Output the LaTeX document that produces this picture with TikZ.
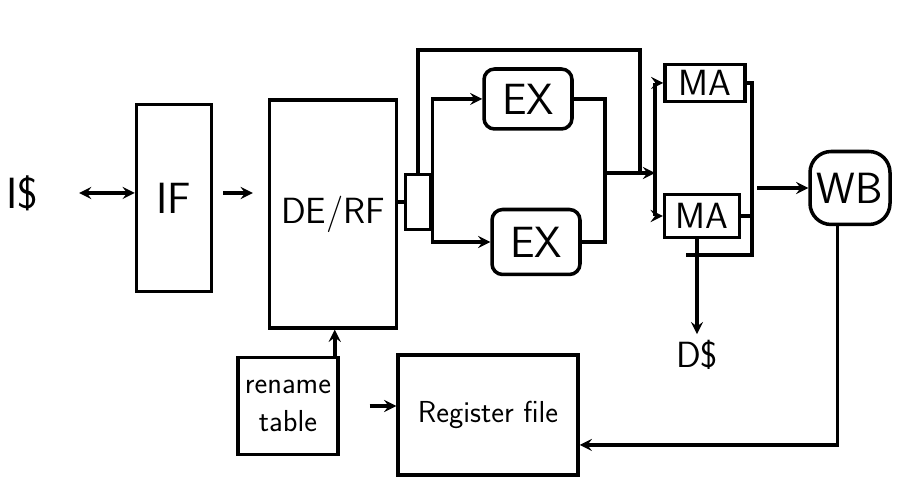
\documentclass[tikz,border=0pt]{standalone}
\usetikzlibrary{positioning,arrows,shapes}

\begin{document}
\begin{tikzpicture}[x=0.02cm,y=-0.02cm]
    % Define styles
    \tikzstyle{stage} = [rectangle, draw, line width=2pt, font=\sffamily\huge, inner sep=2pt]
    \tikzstyle{mux} = [rectangle, draw, line width=2pt, minimum width=0.5cm, minimum height=1.1cm, inner sep=0pt]
    \tikzstyle{wire} = [line width=2pt]
    \tikzstyle{arrow} = [line width=2pt,->,>=stealth]

    \useasboundingbox (0,0) rectangle (898,492);

    % Pipeline stages
    \node[font=\sffamily\Huge] (icache) at (22,193) {I\$};
    \node[stage, font=\sffamily\Huge, minimum width=1.5cm, minimum height=3.74cm] (IF) at (174,198) {IF};
    \node[stage, minimum width=2.54cm, minimum height=4.56cm] (DE) at (333,214) {DE/RF};
    \node[mux] (mux) at (418,202) {};
    \node[stage, font=\sffamily\Huge, minimum width=1.76cm, minimum height=1.2cm, rounded corners=6pt] (EX1) at (528,99) {EX};
    \node[stage, font=\sffamily\Huge, minimum width=1.76cm, minimum height=1.3cm, rounded corners=6pt] (EX2) at (536,242) {EX};
    \node[stage, minimum width=1.6cm, minimum height=0.74cm] (MA1) at (705,83) {MA};
    \node[stage, minimum width=1.5cm, minimum height=0.86cm] (MA2) at (702,216) {MA};
    \node[stage, font=\sffamily\Huge, minimum width=1.6cm, minimum height=1.46cm, rounded corners=12pt] (WB) at (850,188) {WB};
    \node[font=\sffamily\huge] (dcache) at (697,355) {D\$};
    \node[stage, minimum width=2cm, minimum height=1.94cm, align=center, font=\sffamily\LARGE] (rename) at (288,406) {rename\\table};
    \node[stage, minimum width=3.6cm, minimum height=2.4cm, font=\sffamily\LARGE] (regfile) at (488,415) {Register file};

    % Junctions
    \coordinate (merge) at (605,173);
    \coordinate (bypass) at (640,50);
    \coordinate (barTop) at (655,83);
    \coordinate (barBot) at (655,216);
    \coordinate (rbar) at (752,255);
    \coordinate (rbarEnd) at (686,255);

    % Arrows
    \draw[arrow, <->, shorten <=0.7cm] (icache) -- (icache -| IF.west);
    \draw[arrow, shorten <=0.2cm, shorten >=0.3cm] (IF.east |- icache) -- (DE.west |- icache);
    \draw[wire] (DE.east |- mux) -- (mux.west);
    \draw[wire] (mux.north) |- (bypass) -- (bypass |- merge);
    \draw[arrow] (mux.east) |- (EX1.west);
    \draw[arrow] (mux.east) |- (EX2.west);
    \draw[wire] (EX1.east) -| (merge);
    \draw[wire] (EX2.east) -| (merge);
    \draw[arrow] (merge) -- (merge -| barTop);
    \draw[wire] (barTop) -- (barBot);
    \draw[arrow] (barTop) -- (MA1.west);
    \draw[arrow] (barBot) -- (MA2.west);
    \draw[wire] (MA1.east) -| (rbar) -- (rbarEnd);
    \draw[wire] (MA2.east) -- (MA2.east -| rbar);
    \draw[arrow, shorten <=0.1cm] (rbar |- WB) -- (WB.west);
    \draw[arrow] (MA2.south -| dcache) -- (dcache.north);
    \draw[arrow] ([xshift=-0.25cm]WB.south) |- ([yshift=-0.6cm]regfile.east);
    \draw[arrow, shorten <=0.6cm] (rename.east) -- (rename.east -| regfile.west);
    \draw[arrow] ([xshift=-0.1cm]rename.north east) -- ([xshift=-0.1cm]rename.north east |- DE.south);

\end{tikzpicture}
\end{document}
